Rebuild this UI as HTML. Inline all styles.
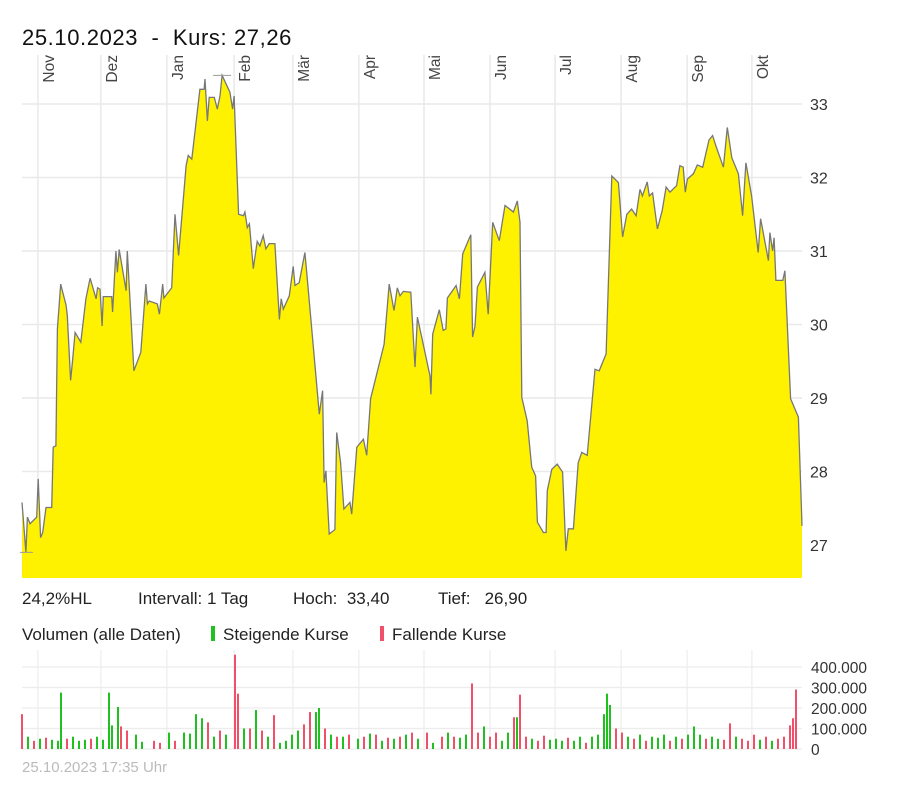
<!DOCTYPE html>
<html><head><meta charset="utf-8">
<style>
html,body{margin:0;padding:0;background:#fff;}
body{width:919px;height:785px;overflow:hidden;font-family:"Liberation Sans",sans-serif;}
svg{position:absolute;left:0;top:0;}
text{white-space:pre;}
</style></head>
<body>
<svg id="chart" width="919" height="785" viewBox="0 0 919 785">
  <text x="22" y="45" font-size="22" fill="#111" letter-spacing="0.6" xml:space="preserve">25.10.2023  -  Kurs: 27,26</text>
  <g id="grid"></g>
  <g id="price"></g>
  <g id="months"></g>
  <g id="yticks"></g>
  <text x="22" y="604" font-size="17" fill="#222">24,2%HL</text>
  <text x="138" y="604" font-size="17" fill="#222">Intervall: 1 Tag</text>
  <text x="293" y="604" font-size="17" fill="#222" xml:space="preserve">Hoch:  33,40</text>
  <text x="438" y="604" font-size="17" fill="#222" xml:space="preserve">Tief:   26,90</text>
  <text x="22" y="640" font-size="17" fill="#222">Volumen (alle Daten)</text>
  <rect x="211" y="626" width="4" height="15" fill="#1fc01f"></rect>
  <text x="223" y="640" font-size="17" fill="#222">Steigende Kurse</text>
  <rect x="380" y="626" width="4" height="15" fill="#f0506a"></rect>
  <text x="392" y="640" font-size="17" fill="#222">Fallende Kurse</text>
  <g id="vol"></g>
  <text x="22" y="772" font-size="15" fill="#bbb">25.10.2023 17:35 Uhr</text>
</svg>
<script>
const days=[0,1.3,1.8,2.7,4.9,5.4,6.2,6.9,8,9.9,10.4,11.3,11.8,12.9,14.7,15.1,16.2,16.9,17.7,19.6,21.3,22.7,24.7,25.2,26,26.7,27.1,29.9,30.2,31.3,31.8,32.4,34.7,35.1,37.3,39.6,41.3,41.8,42.4,45.1,45.8,46.9,47.3,49.9,51,52.2,54.7,55.4,56.6,59.3,60.7,61,61.8,62.4,64.1,65.1,66,66.7,69.3,70.2,70.7,72.2,73.8,74.3,75.1,75.8,77.1,78.4,79.3,80.4,81.3,82.4,84.3,85.8,86.4,87.1,89.1,90.4,91,92.4,94.3,95.1,99.1,100.2,100.7,101.3,102.4,104.3,104.9,106.2,107.3,109.3,109.9,111.6,113.8,114.9,116.2,120.7,122.4,124,125.1,126,127.1,129.6,131,131.8,136,136.3,136.9,139.1,140.4,141.3,141.8,144.7,145.8,146.9,149.6,150.2,151,151.8,154.3,155.4,156.9,159.1,161,163.8,165.1,166,166.6,168.4,169.9,171.2,171.8,173.8,174.7,175.1,176.6,178.4,180.2,181.3,182.1,183.8,185.4,186.6,188.4,191,192.4,194.7,196.6,198.8,200.2,201.6,203.2,204.7,206,206.8,208.4,209.1,210.2,211.8,213.4,214.7,216,218.2,219.3,220.4,221.1,221.8,223.8,225.1,226.9,229,230.2,231.3,233.8,235.1,236.6,238.8,240.2,241.3,243.2,245.4,246.2,248.8,249.3,250.2,250.7,251.3,253.6,254.3,256.2,258.8,260];
const prices=[27.58,26.9,27.38,27.29,27.38,27.9,27.1,27.17,27.51,27.51,28.33,28.35,29.94,30.55,30.26,30.12,29.24,29.53,29.89,29.76,30.35,30.63,30.35,30.5,30.48,29.98,30.38,30.38,30.17,31.0,30.71,31.02,30.46,31.0,29.37,29.62,30.55,30.28,30.32,30.28,30.14,30.55,30.36,30.5,31.5,30.94,32.16,32.3,32.25,33.2,33.2,33.34,32.77,33.09,33.09,32.93,33.11,33.39,33.16,32.93,33.11,31.5,31.48,31.53,31.32,31.37,30.76,31.13,31.07,31.21,31.03,31.1,31.1,30.07,30.35,30.21,30.39,30.79,30.53,30.57,30.98,30.62,28.78,29.1,27.85,28.01,27.15,27.21,28.53,28.12,27.49,27.58,27.42,28.33,28.44,28.22,28.99,29.73,30.55,30.19,30.5,30.39,30.45,30.44,29.42,30.1,29.3,29.05,29.87,30.2,29.92,29.94,30.36,30.53,30.35,30.96,31.22,29.83,29.98,30.51,30.71,30.14,31.39,31.14,31.62,31.53,31.68,31.39,29.01,28.69,28.06,27.94,27.31,27.17,27.17,27.74,28.03,28.1,27.99,26.92,27.22,27.22,28.12,28.26,28.22,29.39,29.37,29.6,32.02,31.93,31.19,31.5,31.57,31.48,31.84,31.75,31.94,31.75,31.79,31.3,31.55,31.87,31.8,31.89,32.16,32.14,31.8,31.98,32.05,32.17,32.14,32.51,32.57,32.43,32.14,32.68,32.27,32.05,31.48,32.2,31.75,30.98,31.44,30.87,31.25,31.0,31.18,30.6,30.6,30.73,28.99,28.74,27.26];
const priceTicks=[27,28,29,30,31,32,33];
const monthLabels=["Nov","Dez","Jan","Feb","Mär","Apr","Mai","Jun","Jul","Aug","Sep","Okt"];
const monthDays=[5.3,26.3,48.3,70.7,90.3,112.3,134,156,177.7,199.7,221.7,243.3];
const volDays=[0,2,4,6,8,10,12,13,15,17,19,21,23,25,27,29,30,32,33,35,38,40,44,46,49,51,54,56,58,60,62,64,66,68,71,72,74,76,78,80,82,84,86,88,90,92,94,96,98,99,101,103,105,107,109,112,114,116,118,120,122,124,126,128,130,132,135,137,140,142,144,146,148,150,152,154,156,158,160,162,164,165,166,168,170,172,174,176,178,180,182,184,186,188,190,192,194,195,196,198,200,202,204,206,208,210,212,214,216,218,220,222,224,226,228,230,232,234,236,238,240,242,244,246,248,250,252,254,256,257,258];
const volValues=[170,60,40,50,55,45,40,275,50,60,40,45,50,60,45,275,115,205,110,90,70,35,40,30,80,40,80,75,170,150,130,60,90,70,460,270,100,100,190,90,60,165,30,40,70,90,120,180,180,200,100,70,60,60,70,50,60,75,70,40,55,50,60,70,80,50,80,30,60,80,60,55,70,320,80,110,60,80,40,80,155,155,265,60,50,40,65,45,50,40,55,40,60,30,60,70,170,270,215,100,80,60,50,70,40,60,55,70,40,60,50,70,110,70,50,60,50,45,125,60,50,40,70,45,60,40,50,60,115,150,290];
const volUp=[0,1,0,1,0,1,1,1,0,1,1,1,0,1,1,1,1,1,0,0,1,1,0,0,1,0,1,1,1,1,0,1,0,1,0,0,1,0,1,0,1,0,1,1,1,1,0,0,1,1,0,1,0,1,0,1,0,1,0,1,0,1,0,1,0,1,0,1,0,1,0,1,1,0,0,1,0,0,1,1,0,1,0,0,1,0,0,1,1,1,0,1,1,0,1,1,1,1,1,0,0,1,0,1,0,1,1,1,0,1,0,1,1,1,0,1,1,0,0,1,0,0,0,1,0,1,0,0,0,0,0];
const volTicks=[0,100000,200000,300000,400000];
const volTickLabels=["0","100.000","200.000","300.000","400.000"];

const NS="http://www.w3.org/2000/svg";
const X0=22,X1=802;
const xs=d=>X0+(d/260)*(X1-X0);
const ys=p=>545-(p-27)*73.5;
const yv=v=>749-(v/100000)*20.5;
function mk(tag,attrs,parent){const e=document.createElementNS(NS,tag);for(const k in attrs)e.setAttribute(k,attrs[k]);parent.appendChild(e);return e;}
const grid=document.getElementById('grid');
priceTicks.forEach((t,i)=>{
  const l=mk('line',{x1:X0,x2:X1,y1:ys(t),y2:ys(t),stroke:'#e9e9e9','stroke-width':1.5},grid);
  
  
  const tx=mk('text',{x:810,y:ys(t)+6,'font-size':16,fill:'#333'},document.getElementById('yticks'));
  tx.textContent=String(t);
  
  
});
volTicks.forEach((t,i)=>{
  const l=mk('line',{x1:X0,x2:X1,y1:yv(t),y2:yv(t),stroke:'#ececec','stroke-width':1.2},grid);
  
  
  const tx=mk('text',{x:811,y:yv(t)+6,'font-size':15.5,fill:'#333'},document.getElementById('yticks'));
  tx.textContent=volTickLabels[i];
  
  
});
const months=document.getElementById('months');
monthDays.forEach((d,i)=>{
  const x=xs(d);
  const l=mk('line',{x1:x,x2:x,y1:55,y2:578,stroke:'#e9e9e9','stroke-width':1.5},grid);
  
  
  const l2=mk('line',{x1:x,x2:x,y1:650,y2:749,stroke:'#ececec','stroke-width':1.2},grid);
  
  
  const tx=mk('text',{x:0,y:0,'font-size':15.5,fill:'#444','text-anchor':'end',transform:`translate(${x+16},55) rotate(-90)`},months);
  tx.textContent=monthLabels[i];
  
  
});
const pg=document.getElementById('price');
let d='M'+xs(days[0])+','+578;
days.forEach((dd,i)=>{d+=' L'+xs(dd).toFixed(1)+','+ys(prices[i]).toFixed(1);});
d+=' L'+xs(days[days.length-1])+',578 Z';
const area=mk('path',{d:d,fill:'#fff200',stroke:'none'},pg);


const line=mk('polyline',{points:days.map((dd,i)=>xs(dd).toFixed(1)+','+ys(prices[i]).toFixed(1)).join(' '),fill:'none',stroke:'#777','stroke-width':1.3},pg);


let hi=0,lo=0;prices.forEach((p,i)=>{if(p>prices[hi])hi=i;if(p<prices[lo])lo=i;});
const hm=mk('line',{x1:xs(days[hi])-9,x2:xs(days[hi])+9,y1:ys(prices[hi]),y2:ys(prices[hi]),stroke:'#999','stroke-width':1},pg);


const lm=mk('line',{x1:xs(days[lo])-6,x2:xs(days[lo])+7,y1:ys(prices[lo]),y2:ys(prices[lo]),stroke:'#999','stroke-width':1},pg);


const vg=document.getElementById('vol');
volDays.forEach((dd,i)=>{
  const v=volValues[i]*1000;
  const r=mk('rect',{x:xs(dd)-1,y:yv(v),width:2,height:749-yv(v),fill:volUp[i]?'#1fc01f':'#f0506a'},vg);
  
  
});
</script>
</body></html>
